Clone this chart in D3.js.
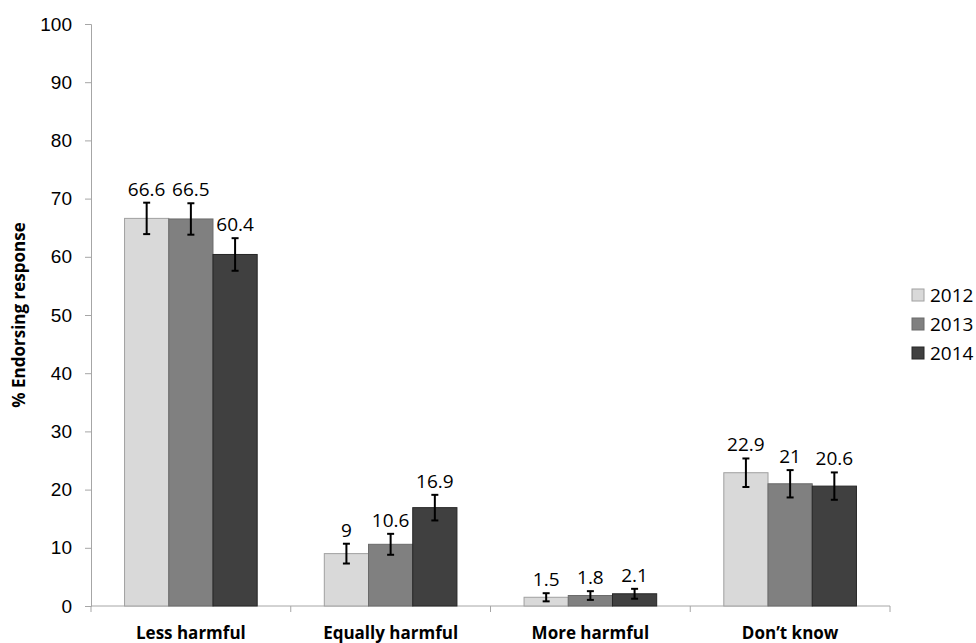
<!DOCTYPE html>
<html>
<head>
<meta charset="utf-8">
<script src="https://cdn.jsdelivr.net/npm/d3@7"></script>
<style>
  body { margin: 0; background: #fff; }
  svg { font-family: "Open Sans", sans-serif; }
</style>
</head>
<body>
<div id="chart"></div>
<script>
// data
const categories = ["Less harmful", "Equally harmful", "More harmful", "Don\u2019t know"];
const years = ["2012", "2013", "2014"];
const values2012 = [66.6, 9, 1.5, 22.9];
const values2013 = [66.5, 10.6, 1.8, 21];
const values2014 = [60.4, 16.9, 2.1, 20.6];
const err2012 = [2.7, 1.7, 0.7, 2.45];
const err2013 = [2.7, 1.8, 0.75, 2.35];
const err2014 = [2.8, 2.2, 0.85, 2.35];
const yTicks = [0, 10, 20, 30, 40, 50, 60, 70, 80, 90, 100];

const fills = { "2012": "#d9d9d9", "2013": "#808080", "2014": "#404040" };
const strokes = { "2012": "#a0a0a0", "2013": "#6a6a6a", "2014": "#262626" };

const margin = { top: 24, right: 86, bottom: 37, left: 91 },
  width = 976 - margin.left - margin.right,
  height = 643 - margin.top - margin.bottom;

const svg = d3
  .select("#chart")
  .append("svg")
  .attr("width", 976)
  .attr("height", 643)
  .append("g")
  .attr("transform", `translate(${margin.left},${margin.top})`);

const series = years.map((yr, i) => ({
  year: yr,
  values: [values2012, values2013, values2014][i],
  errs: [err2012, err2013, err2014][i]
}));

const x0 = d3.scaleBand().domain(categories).range([0, width]).padding(0);
const x1 = d3
  .scaleBand()
  .domain(years)
  .range([x0.bandwidth() * 0.168, x0.bandwidth() * 0.832]);
const y = d3.scaleLinear().domain([0, 100]).range([height, 0]);

// y axis
const yAxis = svg.append("g").call(d3.axisLeft(y).tickValues(yTicks).tickSize(6).tickPadding(13));
yAxis.select(".domain").attr("stroke", "#a6a6a6");
yAxis.selectAll(".tick line").attr("stroke", "#a6a6a6");
yAxis.selectAll("text").style("font-size", "19px").attr("fill", "#000");

// x axis baseline and category boundary ticks
svg.append("line")
  .attr("x1", 0).attr("x2", width)
  .attr("y1", y(0)).attr("y2", y(0))
  .attr("stroke", "#a6a6a6");
svg.selectAll(".xtick")
  .data(d3.range(categories.length + 1))
  .join("line")
  .attr("x1", i => i * x0.step())
  .attr("x2", i => i * x0.step())
  .attr("y1", y(0))
  .attr("y2", y(0) + 6)
  .attr("stroke", "#a6a6a6");

svg.selectAll(".catlabel")
  .data(categories)
  .join("text")
  .attr("x", d => x0(d) + x0.bandwidth() / 2)
  .attr("y", height + 33)
  .attr("text-anchor", "middle")
  .style("font-size", "17px")
  .style("font-weight", "bold")
  .text(d => d);

// bars
const groups = svg.selectAll(".series")
  .data(series)
  .join("g");

groups.selectAll("rect")
  .data(s => s.values.map((v, i) => ({ year: s.year, cat: categories[i], v: v, e: s.errs[i] })))
  .join("rect")
  .attr("x", d => x0(d.cat) + x1(d.year))
  .attr("y", d => y(d.v))
  .attr("width", x1.bandwidth())
  .attr("height", d => y(0) - y(d.v))
  .attr("fill", d => fills[d.year])
  .attr("stroke", d => strokes[d.year])
  .attr("stroke-width", 1);

// error bars
const eb = groups.selectAll(".err")
  .data(s => s.values.map((v, i) => ({ year: s.year, cat: categories[i], v: v, e: s.errs[i] })))
  .join("g")
  .attr("stroke", "#000")
  .attr("stroke-width", 2);
const cx = d => x0(d.cat) + x1(d.year) + x1.bandwidth() / 2;
eb.append("line")
  .attr("x1", cx).attr("x2", cx)
  .attr("y1", d => y(d.v + d.e)).attr("y2", d => y(d.v - d.e));
eb.append("line")
  .attr("x1", d => cx(d) - 3.5).attr("x2", d => cx(d) + 3.5)
  .attr("y1", d => y(d.v + d.e)).attr("y2", d => y(d.v + d.e));
eb.append("line")
  .attr("x1", d => cx(d) - 3.5).attr("x2", d => cx(d) + 3.5)
  .attr("y1", d => y(d.v - d.e)).attr("y2", d => y(d.v - d.e));

// value labels
groups.selectAll(".val")
  .data(s => s.values.map((v, i) => ({ year: s.year, cat: categories[i], v: v, e: s.errs[i] })))
  .join("text")
  .attr("x", cx)
  .attr("y", d => y(d.v + d.e) - 7)
  .attr("text-anchor", "middle")
  .style("font-size", "19px")
  .text(d => d.v);

// y title
svg.append("text")
  .attr("transform", `translate(${-66},${height / 2}) rotate(-90)`)
  .attr("text-anchor", "middle")
  .style("font-size", "17px")
  .style("font-weight", "bold")
  .text("% Endorsing response");

// legend
const legend = svg.append("g")
  .attr("transform", `translate(${width + 22},${265})`);
legend.selectAll("rect")
  .data(years)
  .join("rect")
  .attr("x", 0)
  .attr("y", (d, i) => i * 29)
  .attr("width", 12)
  .attr("height", 12)
  .attr("fill", d => fills[d])
  .attr("stroke", d => strokes[d]);
legend.selectAll("text")
  .data(years)
  .join("text")
  .attr("x", 18)
  .attr("y", (d, i) => i * 29 + 13)
  .style("font-size", "19px")
  .text(d => d);
</script>
</body>
</html>
